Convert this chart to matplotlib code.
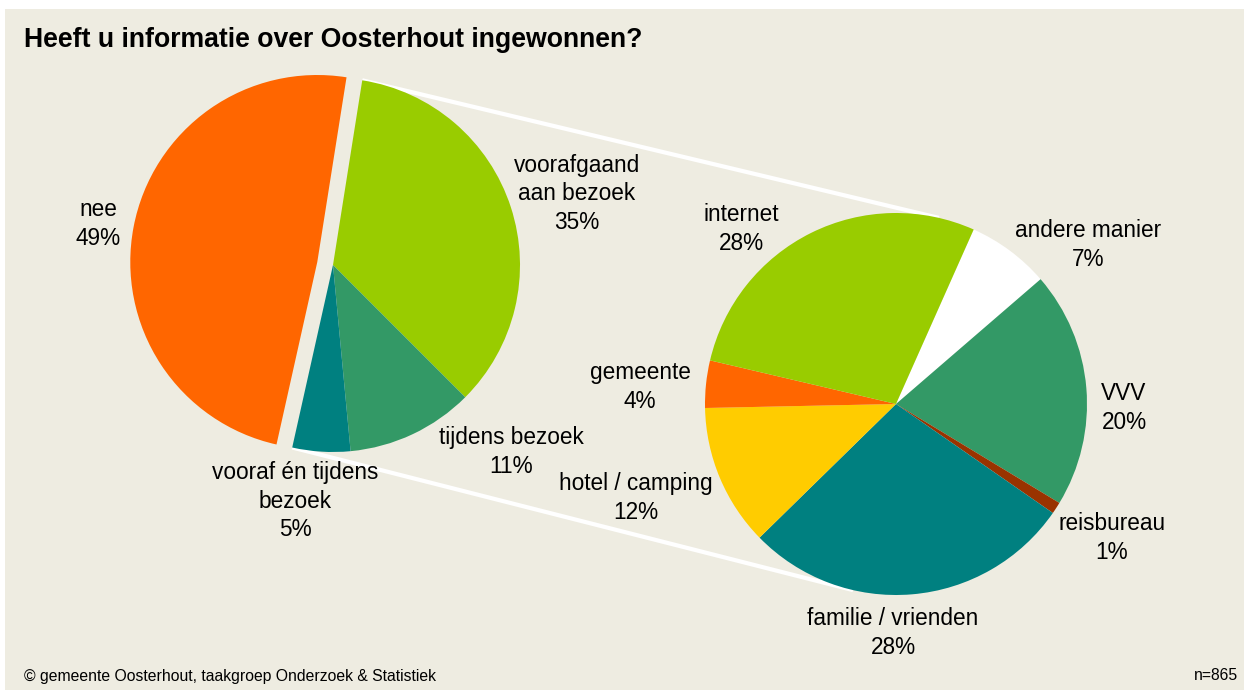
import numpy as np
import matplotlib
matplotlib.use("Agg")
import matplotlib.pyplot as plt

# ---------------- data ----------------
main_labels = ["voorafgaand\naan bezoek", "tijdens bezoek", "vooraf én tijdens\nbezoek", "nee"]
main_values = [35, 11, 5, 49]
main_colors = ["#99CC00", "#339966", "#008080", "#FF6600"]

sub_labels = ["andere manier", "VVV", "reisbureau", "familie / vrienden",
              "hotel / camping", "gemeente", "internet"]
sub_values = [7, 20, 1, 28, 12, 4, 28]
sub_colors = ["#FFFFFF", "#339966", "#993300", "#008080",
              "#FFCC00", "#FF6600", "#99CC00"]

title = "Heeft u informatie over Oosterhout ingewonnen?"
source = "© gemeente Oosterhout, taakgroep Onderzoek & Statistiek"
n_text = "n=865"

# ---------------- layout ----------------
W, H = 1244, 690
BG = "#EEECE1"
FONT = "Liberation Sans"

def Y(y):
    return H - y

main_center = (333, 265)
main_radius = 187
main_start = 9.0          # degrees clockwise from 12 o'clock
explode_px = 16

sub_center = (896, 404)
sub_radius = 191
sub_start = 24.0
connector_offset = 13.0   # degrees from vertical on secondary pie

main_label_pos = [(577, 194), (511, 452), (295, 501), (98, 224)]
sub_label_pos = [(1088, 245), (1124, 408), (1112, 538), (893, 633),
                 (636, 498), (640, 387), (741, 229)]

fig = plt.figure(figsize=(W / 100, H / 100), dpi=100)
fig.patch.set_facecolor("white")
ax = fig.add_axes([0, 0, 1, 1])

# background panel
ax.add_patch(plt.Rectangle((5, 0), W - 5, H - 9, facecolor=BG, edgecolor="none", zorder=0))

# main pie
explode = [0, 0, 0, explode_px]
ax.pie(main_values, colors=main_colors, startangle=90 - main_start, counterclock=False,
       center=(main_center[0], Y(main_center[1])), radius=main_radius, explode=explode,
       wedgeprops=dict(linewidth=0, zorder=2), frame=True)

# secondary pie
ax.pie(sub_values, colors=sub_colors, startangle=90 - sub_start, counterclock=False,
       center=(sub_center[0], Y(sub_center[1])), radius=sub_radius,
       wedgeprops=dict(linewidth=0, zorder=2), frame=True)

# connector lines from the aggregated part (first three slices) to the secondary pie
agg = sum(main_values[:3]) / sum(main_values) * 360.0
a1 = np.deg2rad(main_start)
a2 = np.deg2rad(main_start + agg)
p1 = (main_center[0] + main_radius * np.sin(a1), Y(main_center[1] - main_radius * np.cos(a1)))
p2 = (main_center[0] + main_radius * np.sin(a2), Y(main_center[1] - main_radius * np.cos(a2)))
b1 = np.deg2rad(connector_offset)
b2 = np.deg2rad(180 + connector_offset)
q1 = (sub_center[0] + sub_radius * np.sin(b1), Y(sub_center[1] - sub_radius * np.cos(b1)))
q2 = (sub_center[0] + sub_radius * np.sin(b2), Y(sub_center[1] - sub_radius * np.cos(b2)))
ax.plot([p1[0], q1[0]], [p1[1], q1[1]], color="white", lw=3, zorder=1, solid_capstyle="butt")
ax.plot([p2[0], q2[0]], [p2[1], q2[1]], color="white", lw=3, zorder=1, solid_capstyle="butt")

# labels
lab_kw = dict(ha="center", va="center", multialignment="center", fontsize=16.3,
              family=FONT, color="black", linespacing=1.3, zorder=5)
for lab, v, (x, y) in zip(main_labels, main_values, main_label_pos):
    ax.text(x, Y(y), f"{lab}\n{v}%", **lab_kw)
for lab, v, (x, y) in zip(sub_labels, sub_values, sub_label_pos):
    ax.text(x, Y(y), f"{lab}\n{v}%", **lab_kw)

# title and footer
ax.text(24, Y(40), title, ha="left", va="center", fontsize=19.2, fontweight="bold",
        family=FONT, color="black", zorder=5)
ax.text(24, Y(676), source, ha="left", va="center", fontsize=11.3, family=FONT, zorder=5)
ax.text(1238, Y(676), n_text, ha="right", va="center", fontsize=11.3, family=FONT, zorder=5)

ax.set_xlim(0, W)
ax.set_ylim(0, H)
ax.set_aspect("equal")
ax.axis("off")

fig.savefig("out.png", dpi=100, facecolor=fig.get_facecolor())
